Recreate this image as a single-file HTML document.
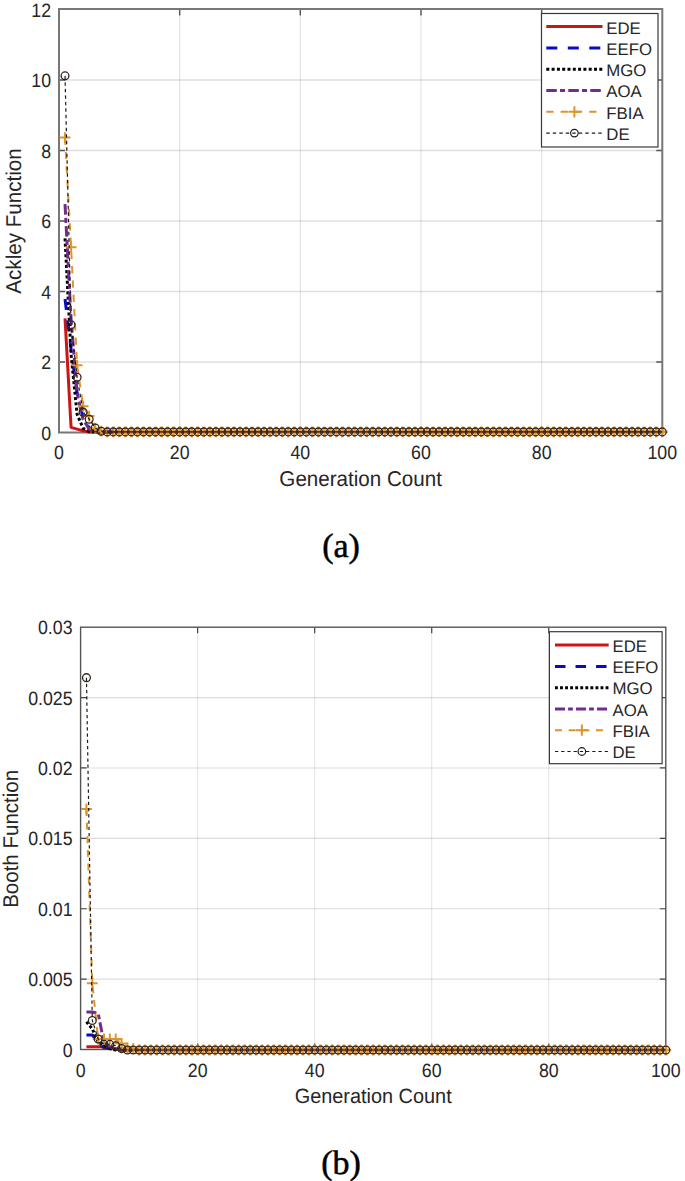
<!DOCTYPE html>
<html><head><meta charset="utf-8"><style>
html,body{margin:0;padding:0;background:#fff;width:685px;height:1181px;overflow:hidden}
svg{display:block}
text{font-family:"Liberation Sans", sans-serif;fill:#262626;text-rendering:geometricPrecision}
.cap{font-family:"Liberation Serif", serif;fill:#000}
</style></head><body>
<svg width="685" height="1181" viewBox="0 0 685 1181">
<rect width="685" height="1181" fill="#fff"/>
<path d="M179.66 9.5V432.5M300.32 9.5V432.5M420.98 9.5V432.5M541.64 9.5V432.5" stroke="#262626" stroke-opacity="0.11" stroke-width="1.3" fill="none"/>
<path d="M59 362H662.3M59 291.5H662.3M59 221H662.3M59 150.5H662.3M59 80H662.3" stroke="#262626" stroke-opacity="0.15" stroke-width="1.5" fill="none"/>
<path d="M179.66 432.5v-6M179.66 9.5v6M300.32 432.5v-6M300.32 9.5v6M420.98 432.5v-6M420.98 9.5v6M541.64 432.5v-6M541.64 9.5v6M59 362h6M662.3 362h-6M59 291.5h6M662.3 291.5h-6M59 221h6M662.3 221h-6M59 150.5h6M662.3 150.5h-6M59 80h6M662.3 80h-6" stroke="#555" stroke-width="1.4" fill="none"/>
<rect x="59" y="9" width="603.3" height="423.5" fill="none" stroke="#777777" stroke-width="2.0"/>
<path d="M101.86 431.9h10.8M107.26 426.5v10.8M107.9 431.9h10.8M113.3 426.5v10.8M113.93 431.9h10.8M119.33 426.5v10.8M119.96 431.9h10.8M125.36 426.5v10.8M126 431.9h10.8M131.4 426.5v10.8M132.03 431.9h10.8M137.43 426.5v10.8M138.06 431.9h10.8M143.46 426.5v10.8M144.09 431.9h10.8M149.5 426.5v10.8M150.13 431.9h10.8M155.53 426.5v10.8M156.16 431.9h10.8M161.56 426.5v10.8M162.19 431.9h10.8M167.59 426.5v10.8M168.23 431.9h10.8M173.63 426.5v10.8M174.26 431.9h10.8M179.66 426.5v10.8M180.29 431.9h10.8M185.69 426.5v10.8M186.33 431.9h10.8M191.73 426.5v10.8M192.36 431.9h10.8M197.76 426.5v10.8M198.39 431.9h10.8M203.79 426.5v10.8M204.42 431.9h10.8M209.82 426.5v10.8M210.46 431.9h10.8M215.86 426.5v10.8M216.49 431.9h10.8M221.89 426.5v10.8M222.52 431.9h10.8M227.92 426.5v10.8M228.56 431.9h10.8M233.96 426.5v10.8M234.59 431.9h10.8M239.99 426.5v10.8M240.62 431.9h10.8M246.02 426.5v10.8M246.66 431.9h10.8M252.06 426.5v10.8M252.69 431.9h10.8M258.09 426.5v10.8M258.72 431.9h10.8M264.12 426.5v10.8M264.75 431.9h10.8M270.15 426.5v10.8M270.79 431.9h10.8M276.19 426.5v10.8M276.82 431.9h10.8M282.22 426.5v10.8M282.85 431.9h10.8M288.25 426.5v10.8M288.89 431.9h10.8M294.29 426.5v10.8M294.92 431.9h10.8M300.32 426.5v10.8M300.95 431.9h10.8M306.35 426.5v10.8M306.99 431.9h10.8M312.39 426.5v10.8M313.02 431.9h10.8M318.42 426.5v10.8M319.05 431.9h10.8M324.45 426.5v10.8M325.08 431.9h10.8M330.48 426.5v10.8M331.12 431.9h10.8M336.52 426.5v10.8M337.15 431.9h10.8M342.55 426.5v10.8M343.18 431.9h10.8M348.58 426.5v10.8M349.22 431.9h10.8M354.62 426.5v10.8M355.25 431.9h10.8M360.65 426.5v10.8M361.28 431.9h10.8M366.68 426.5v10.8M367.32 431.9h10.8M372.72 426.5v10.8M373.35 431.9h10.8M378.75 426.5v10.8M379.38 431.9h10.8M384.78 426.5v10.8M385.42 431.9h10.8M390.81 426.5v10.8M391.45 431.9h10.8M396.85 426.5v10.8M397.48 431.9h10.8M402.88 426.5v10.8M403.51 431.9h10.8M408.91 426.5v10.8M409.55 431.9h10.8M414.95 426.5v10.8M415.58 431.9h10.8M420.98 426.5v10.8M421.61 431.9h10.8M427.01 426.5v10.8M427.65 431.9h10.8M433.05 426.5v10.8M433.68 431.9h10.8M439.08 426.5v10.8M439.71 431.9h10.8M445.11 426.5v10.8M445.75 431.9h10.8M451.14 426.5v10.8M451.78 431.9h10.8M457.18 426.5v10.8M457.81 431.9h10.8M463.21 426.5v10.8M463.84 431.9h10.8M469.24 426.5v10.8M469.88 431.9h10.8M475.28 426.5v10.8M475.91 431.9h10.8M481.31 426.5v10.8M481.94 431.9h10.8M487.34 426.5v10.8M487.98 431.9h10.8M493.38 426.5v10.8M494.01 431.9h10.8M499.41 426.5v10.8M500.04 431.9h10.8M505.44 426.5v10.8M506.08 431.9h10.8M511.48 426.5v10.8M512.11 431.9h10.8M517.51 426.5v10.8M518.14 431.9h10.8M523.54 426.5v10.8M524.17 431.9h10.8M529.57 426.5v10.8M530.21 431.9h10.8M535.61 426.5v10.8M536.24 431.9h10.8M541.64 426.5v10.8M542.27 431.9h10.8M547.67 426.5v10.8M548.31 431.9h10.8M553.71 426.5v10.8M554.34 431.9h10.8M559.74 426.5v10.8M560.37 431.9h10.8M565.77 426.5v10.8M566.4 431.9h10.8M571.8 426.5v10.8M572.44 431.9h10.8M577.84 426.5v10.8M578.47 431.9h10.8M583.87 426.5v10.8M584.5 431.9h10.8M589.9 426.5v10.8M590.54 431.9h10.8M595.94 426.5v10.8M596.57 431.9h10.8M601.97 426.5v10.8M602.6 431.9h10.8M608 426.5v10.8M608.64 431.9h10.8M614.04 426.5v10.8M614.67 431.9h10.8M620.07 426.5v10.8M620.7 431.9h10.8M626.1 426.5v10.8M626.73 431.9h10.8M632.13 426.5v10.8M632.77 431.9h10.8M638.17 426.5v10.8M638.8 431.9h10.8M644.2 426.5v10.8M644.83 431.9h10.8M650.23 426.5v10.8M650.87 431.9h10.8M656.27 426.5v10.8M656.9 431.9h10.8M662.3 426.5v10.8" stroke="#e29a38" stroke-width="2.6" fill="none"/>
<polyline points="65.03,318.39 71.07,427.32 77.1,429.08 83.13,430.84 89.16,431.9 95.2,431.9 101.23,431.9" fill="none" stroke="#cc1616" stroke-width="3" stroke-linejoin="round"/>
<polyline points="65.03,299.01 71.07,349.41 77.1,393.12 83.13,417.8 89.16,427.67 95.2,431.19 101.23,431.9 107.26,431.9 113.3,431.9" fill="none" stroke="#0a0ac4" stroke-width="3" stroke-dasharray="11.00 10.50" stroke-linejoin="round"/>
<polyline points="65.03,238.38 71.07,354.35 77.1,414.27 83.13,428.38 89.16,431.55 95.2,431.9 101.23,431.9 107.26,431.9" fill="none" stroke="#000000" stroke-width="3" stroke-dasharray="3.00 2.30" stroke-linejoin="round"/>
<polyline points="65.03,204.19 71.07,319.1 77.1,393.12 83.13,419.56 89.16,429.08 95.2,431.9 101.23,431.9 107.26,431.9" fill="none" stroke="#722c8c" stroke-width="3" stroke-dasharray="10.50 3.20 5.00 3.30" stroke-linejoin="round"/>
<polyline points="65.03,137.56 71.07,247.19 77.1,365.28 83.13,406.17 89.16,416.04 95.2,428.38 101.23,431.19 107.26,431.9 113.3,431.9 119.33,431.9" fill="none" stroke="#dc942c" stroke-width="2" stroke-dasharray="7.30 7.00" stroke-linejoin="round"/>
<path d="M95.2 431.9H662.3" stroke="#6a2c14" stroke-width="1.6"/>
<path d="M59.63 137.56h10.8M65.03 132.16v10.8M65.67 247.19h10.8M71.07 241.79v10.8M71.7 365.28h10.8M77.1 359.88v10.8M77.73 406.17h10.8M83.13 400.77v10.8M83.76 416.04h10.8M89.16 410.64v10.8M89.8 428.38h10.8M95.2 422.98v10.8M95.83 431.19h10.8M101.23 425.8v10.8" stroke="#dc942c" stroke-width="2" fill="none"/>
<polyline points="65.03,75.87 71.07,324.74 77.1,377.26 83.13,412.16 89.16,419.21 95.2,428.02 101.23,431.19 107.26,431.9 113.3,431.9 119.33,431.9" fill="none" stroke="#1a1a1a" stroke-width="1.2" stroke-dasharray="3.40 3.10" stroke-linejoin="round"/>
<g fill="none" stroke="#33231a" stroke-width="1.3"><circle cx="65.03" cy="75.87" r="3.9"/><circle cx="71.07" cy="324.74" r="3.9"/><circle cx="77.1" cy="377.26" r="3.9"/><circle cx="83.13" cy="412.16" r="3.9"/><circle cx="89.16" cy="419.21" r="3.9"/><circle cx="95.2" cy="428.02" r="3.9"/><circle cx="101.23" cy="431.19" r="3.9"/><circle cx="107.26" cy="431.9" r="3.9"/><circle cx="113.3" cy="431.9" r="3.9"/><circle cx="119.33" cy="431.9" r="3.9"/><circle cx="125.36" cy="431.9" r="3.9"/><circle cx="131.4" cy="431.9" r="3.9"/><circle cx="137.43" cy="431.9" r="3.9"/><circle cx="143.46" cy="431.9" r="3.9"/><circle cx="149.5" cy="431.9" r="3.9"/><circle cx="155.53" cy="431.9" r="3.9"/><circle cx="161.56" cy="431.9" r="3.9"/><circle cx="167.59" cy="431.9" r="3.9"/><circle cx="173.63" cy="431.9" r="3.9"/><circle cx="179.66" cy="431.9" r="3.9"/><circle cx="185.69" cy="431.9" r="3.9"/><circle cx="191.73" cy="431.9" r="3.9"/><circle cx="197.76" cy="431.9" r="3.9"/><circle cx="203.79" cy="431.9" r="3.9"/><circle cx="209.82" cy="431.9" r="3.9"/><circle cx="215.86" cy="431.9" r="3.9"/><circle cx="221.89" cy="431.9" r="3.9"/><circle cx="227.92" cy="431.9" r="3.9"/><circle cx="233.96" cy="431.9" r="3.9"/><circle cx="239.99" cy="431.9" r="3.9"/><circle cx="246.02" cy="431.9" r="3.9"/><circle cx="252.06" cy="431.9" r="3.9"/><circle cx="258.09" cy="431.9" r="3.9"/><circle cx="264.12" cy="431.9" r="3.9"/><circle cx="270.15" cy="431.9" r="3.9"/><circle cx="276.19" cy="431.9" r="3.9"/><circle cx="282.22" cy="431.9" r="3.9"/><circle cx="288.25" cy="431.9" r="3.9"/><circle cx="294.29" cy="431.9" r="3.9"/><circle cx="300.32" cy="431.9" r="3.9"/><circle cx="306.35" cy="431.9" r="3.9"/><circle cx="312.39" cy="431.9" r="3.9"/><circle cx="318.42" cy="431.9" r="3.9"/><circle cx="324.45" cy="431.9" r="3.9"/><circle cx="330.48" cy="431.9" r="3.9"/><circle cx="336.52" cy="431.9" r="3.9"/><circle cx="342.55" cy="431.9" r="3.9"/><circle cx="348.58" cy="431.9" r="3.9"/><circle cx="354.62" cy="431.9" r="3.9"/><circle cx="360.65" cy="431.9" r="3.9"/><circle cx="366.68" cy="431.9" r="3.9"/><circle cx="372.72" cy="431.9" r="3.9"/><circle cx="378.75" cy="431.9" r="3.9"/><circle cx="384.78" cy="431.9" r="3.9"/><circle cx="390.81" cy="431.9" r="3.9"/><circle cx="396.85" cy="431.9" r="3.9"/><circle cx="402.88" cy="431.9" r="3.9"/><circle cx="408.91" cy="431.9" r="3.9"/><circle cx="414.95" cy="431.9" r="3.9"/><circle cx="420.98" cy="431.9" r="3.9"/><circle cx="427.01" cy="431.9" r="3.9"/><circle cx="433.05" cy="431.9" r="3.9"/><circle cx="439.08" cy="431.9" r="3.9"/><circle cx="445.11" cy="431.9" r="3.9"/><circle cx="451.14" cy="431.9" r="3.9"/><circle cx="457.18" cy="431.9" r="3.9"/><circle cx="463.21" cy="431.9" r="3.9"/><circle cx="469.24" cy="431.9" r="3.9"/><circle cx="475.28" cy="431.9" r="3.9"/><circle cx="481.31" cy="431.9" r="3.9"/><circle cx="487.34" cy="431.9" r="3.9"/><circle cx="493.38" cy="431.9" r="3.9"/><circle cx="499.41" cy="431.9" r="3.9"/><circle cx="505.44" cy="431.9" r="3.9"/><circle cx="511.48" cy="431.9" r="3.9"/><circle cx="517.51" cy="431.9" r="3.9"/><circle cx="523.54" cy="431.9" r="3.9"/><circle cx="529.57" cy="431.9" r="3.9"/><circle cx="535.61" cy="431.9" r="3.9"/><circle cx="541.64" cy="431.9" r="3.9"/><circle cx="547.67" cy="431.9" r="3.9"/><circle cx="553.71" cy="431.9" r="3.9"/><circle cx="559.74" cy="431.9" r="3.9"/><circle cx="565.77" cy="431.9" r="3.9"/><circle cx="571.8" cy="431.9" r="3.9"/><circle cx="577.84" cy="431.9" r="3.9"/><circle cx="583.87" cy="431.9" r="3.9"/><circle cx="589.9" cy="431.9" r="3.9"/><circle cx="595.94" cy="431.9" r="3.9"/><circle cx="601.97" cy="431.9" r="3.9"/><circle cx="608" cy="431.9" r="3.9"/><circle cx="614.04" cy="431.9" r="3.9"/><circle cx="620.07" cy="431.9" r="3.9"/><circle cx="626.1" cy="431.9" r="3.9"/><circle cx="632.13" cy="431.9" r="3.9"/><circle cx="638.17" cy="431.9" r="3.9"/><circle cx="644.2" cy="431.9" r="3.9"/><circle cx="650.23" cy="431.9" r="3.9"/><circle cx="656.27" cy="431.9" r="3.9"/><circle cx="662.3" cy="431.9" r="3.9"/></g>
<text transform="translate(59 458.5) scale(0.985 1.07)" text-anchor="middle" font-size="18">0</text>
<text transform="translate(179.66 458.5) scale(0.985 1.07)" text-anchor="middle" font-size="18">20</text>
<text transform="translate(300.32 458.5) scale(0.985 1.07)" text-anchor="middle" font-size="18">40</text>
<text transform="translate(420.98 458.5) scale(0.985 1.07)" text-anchor="middle" font-size="18">60</text>
<text transform="translate(541.64 458.5) scale(0.985 1.07)" text-anchor="middle" font-size="18">80</text>
<text transform="translate(662.3 458.5) scale(0.985 1.07)" text-anchor="middle" font-size="18">100</text>
<text transform="translate(51 439.5) scale(0.985 1.07)" text-anchor="end" font-size="18">0</text>
<text transform="translate(51 369) scale(0.985 1.07)" text-anchor="end" font-size="18">2</text>
<text transform="translate(51 298.5) scale(0.985 1.07)" text-anchor="end" font-size="18">4</text>
<text transform="translate(51 228) scale(0.985 1.07)" text-anchor="end" font-size="18">6</text>
<text transform="translate(51 157.5) scale(0.985 1.07)" text-anchor="end" font-size="18">8</text>
<text transform="translate(51 87) scale(0.985 1.07)" text-anchor="end" font-size="18">10</text>
<text transform="translate(51 16.5) scale(0.985 1.07)" text-anchor="end" font-size="18">12</text>
<text transform="translate(360.65 485.9) scale(1 1.04)" text-anchor="middle" font-size="20.6">Generation Count</text>
<text transform="translate(21 221) rotate(-90) scale(1 1.04)" text-anchor="middle" font-size="20.6">Ackley Function</text>
<rect x="541.5" y="13.5" width="116.5" height="133.5" fill="#fff" stroke="#3a3a3a" stroke-width="1.2"/>
<path d="M546.3 26.6H602.5" stroke="#cc1616" stroke-width="3" fill="none"/>
<text x="606.3" y="33.5" font-size="16.8">EDE</text>
<path d="M546.3 47.9H602.5" stroke="#0a0ac4" stroke-width="3" stroke-dasharray="11.00 10.50" fill="none"/>
<text x="606.3" y="54.8" font-size="16.8">EEFO</text>
<path d="M546.3 69.2H602.5" stroke="#000000" stroke-width="3" stroke-dasharray="3.00 2.30" fill="none"/>
<text x="606.3" y="76.1" font-size="16.8">MGO</text>
<path d="M546.3 90.5H602.5" stroke="#722c8c" stroke-width="3" stroke-dasharray="10.50 3.20 5.00 3.30" fill="none"/>
<text x="606.3" y="97.4" font-size="16.8">AOA</text>
<path d="M546.3 111.8H602.5" stroke="#dc942c" stroke-width="2" stroke-dasharray="7.30 7.00" fill="none"/>
<path d="M568.4 111.8h12M574.4 106.2v11.2" stroke="#dc942c" stroke-width="2"/>
<text x="606.3" y="118.7" font-size="16.8">FBIA</text>
<path d="M546.3 133.1H602.5" stroke="#1a1a1a" stroke-width="1.2" stroke-dasharray="3.40 3.10" fill="none"/>
<circle cx="574.4" cy="133.1" r="3.8" fill="none" stroke="#1a1a1a" stroke-width="1.2"/>
<text x="606.3" y="140" font-size="16.8">DE</text>
<text x="341" y="557" text-anchor="middle" class="cap" font-size="34" stroke="#000" stroke-width="0.5">(a)</text>
<path d="M197.64 627.2V1049.5M314.68 627.2V1049.5M431.72 627.2V1049.5M548.76 627.2V1049.5" stroke="#262626" stroke-opacity="0.13" stroke-width="1.0" fill="none"/>
<path d="M80.6 979.12H665.8M80.6 908.73H665.8M80.6 838.35H665.8M80.6 767.97H665.8M80.6 697.58H665.8" stroke="#262626" stroke-opacity="0.16" stroke-width="1.1" fill="none"/>
<path d="M197.64 1049.5v-6M197.64 627.2v6M314.68 1049.5v-6M314.68 627.2v6M431.72 1049.5v-6M431.72 627.2v6M548.76 1049.5v-6M548.76 627.2v6M80.6 979.12h6M665.8 979.12h-6M80.6 908.73h6M665.8 908.73h-6M80.6 838.35h6M665.8 838.35h-6M80.6 767.97h6M665.8 767.97h-6M80.6 697.58h6M665.8 697.58h-6" stroke="#444" stroke-width="1.2" fill="none"/>
<rect x="80.6" y="627.2" width="585.2" height="422.3" fill="none" stroke="#555555" stroke-width="1.4"/>
<path d="M133.72 1050h10.8M139.12 1044.6v10.8M139.57 1050h10.8M144.97 1044.6v10.8M145.42 1050h10.8M150.82 1044.6v10.8M151.28 1050h10.8M156.68 1044.6v10.8M157.13 1050h10.8M162.53 1044.6v10.8M162.98 1050h10.8M168.38 1044.6v10.8M168.83 1050h10.8M174.23 1044.6v10.8M174.68 1050h10.8M180.08 1044.6v10.8M180.54 1050h10.8M185.94 1044.6v10.8M186.39 1050h10.8M191.79 1044.6v10.8M192.24 1050h10.8M197.64 1044.6v10.8M198.09 1050h10.8M203.49 1044.6v10.8M203.94 1050h10.8M209.34 1044.6v10.8M209.8 1050h10.8M215.2 1044.6v10.8M215.65 1050h10.8M221.05 1044.6v10.8M221.5 1050h10.8M226.9 1044.6v10.8M227.35 1050h10.8M232.75 1044.6v10.8M233.2 1050h10.8M238.6 1044.6v10.8M239.06 1050h10.8M244.46 1044.6v10.8M244.91 1050h10.8M250.31 1044.6v10.8M250.76 1050h10.8M256.16 1044.6v10.8M256.61 1050h10.8M262.01 1044.6v10.8M262.46 1050h10.8M267.86 1044.6v10.8M268.32 1050h10.8M273.72 1044.6v10.8M274.17 1050h10.8M279.57 1044.6v10.8M280.02 1050h10.8M285.42 1044.6v10.8M285.87 1050h10.8M291.27 1044.6v10.8M291.72 1050h10.8M297.12 1044.6v10.8M297.58 1050h10.8M302.98 1044.6v10.8M303.43 1050h10.8M308.83 1044.6v10.8M309.28 1050h10.8M314.68 1044.6v10.8M315.13 1050h10.8M320.53 1044.6v10.8M320.98 1050h10.8M326.38 1044.6v10.8M326.84 1050h10.8M332.24 1044.6v10.8M332.69 1050h10.8M338.09 1044.6v10.8M338.54 1050h10.8M343.94 1044.6v10.8M344.39 1050h10.8M349.79 1044.6v10.8M350.24 1050h10.8M355.64 1044.6v10.8M356.1 1050h10.8M361.5 1044.6v10.8M361.95 1050h10.8M367.35 1044.6v10.8M367.8 1050h10.8M373.2 1044.6v10.8M373.65 1050h10.8M379.05 1044.6v10.8M379.5 1050h10.8M384.9 1044.6v10.8M385.36 1050h10.8M390.76 1044.6v10.8M391.21 1050h10.8M396.61 1044.6v10.8M397.06 1050h10.8M402.46 1044.6v10.8M402.91 1050h10.8M408.31 1044.6v10.8M408.76 1050h10.8M414.16 1044.6v10.8M414.62 1050h10.8M420.02 1044.6v10.8M420.47 1050h10.8M425.87 1044.6v10.8M426.32 1050h10.8M431.72 1044.6v10.8M432.17 1050h10.8M437.57 1044.6v10.8M438.02 1050h10.8M443.42 1044.6v10.8M443.88 1050h10.8M449.28 1044.6v10.8M449.73 1050h10.8M455.13 1044.6v10.8M455.58 1050h10.8M460.98 1044.6v10.8M461.43 1050h10.8M466.83 1044.6v10.8M467.28 1050h10.8M472.68 1044.6v10.8M473.14 1050h10.8M478.54 1044.6v10.8M478.99 1050h10.8M484.39 1044.6v10.8M484.84 1050h10.8M490.24 1044.6v10.8M490.69 1050h10.8M496.09 1044.6v10.8M496.54 1050h10.8M501.94 1044.6v10.8M502.4 1050h10.8M507.8 1044.6v10.8M508.25 1050h10.8M513.65 1044.6v10.8M514.1 1050h10.8M519.5 1044.6v10.8M519.95 1050h10.8M525.35 1044.6v10.8M525.8 1050h10.8M531.2 1044.6v10.8M531.66 1050h10.8M537.06 1044.6v10.8M537.51 1050h10.8M542.91 1044.6v10.8M543.36 1050h10.8M548.76 1044.6v10.8M549.21 1050h10.8M554.61 1044.6v10.8M555.06 1050h10.8M560.46 1044.6v10.8M560.92 1050h10.8M566.32 1044.6v10.8M566.77 1050h10.8M572.17 1044.6v10.8M572.62 1050h10.8M578.02 1044.6v10.8M578.47 1050h10.8M583.87 1044.6v10.8M584.32 1050h10.8M589.72 1044.6v10.8M590.18 1050h10.8M595.58 1044.6v10.8M596.03 1050h10.8M601.43 1044.6v10.8M601.88 1050h10.8M607.28 1044.6v10.8M607.73 1050h10.8M613.13 1044.6v10.8M613.58 1050h10.8M618.98 1044.6v10.8M619.44 1050h10.8M624.84 1044.6v10.8M625.29 1050h10.8M630.69 1044.6v10.8M631.14 1050h10.8M636.54 1044.6v10.8M636.99 1050h10.8M642.39 1044.6v10.8M642.84 1050h10.8M648.24 1044.6v10.8M648.7 1050h10.8M654.1 1044.6v10.8M654.55 1050h10.8M659.95 1044.6v10.8M660.4 1050h10.8M665.8 1044.6v10.8" stroke="#e29a38" stroke-width="2.6" fill="none"/>
<polyline points="86.45,1046.76 92.3,1046.76 98.16,1046.76 104.01,1046.76 109.86,1046.76 115.71,1048.59 121.56,1050 127.42,1050 133.27,1050" fill="none" stroke="#cc1616" stroke-width="3" stroke-linejoin="round"/>
<polyline points="86.45,1034.94 92.3,1034.94 98.16,1042.96 104.01,1047.18 109.86,1048.59 115.71,1050 121.56,1050 127.42,1050" fill="none" stroke="#0a0ac4" stroke-width="3" stroke-dasharray="10.50 10.03" stroke-linejoin="round"/>
<polyline points="86.45,1021.85 92.3,1028.88 98.16,1041.55 104.01,1045.78 109.86,1048.59 115.71,1050 121.56,1050 127.42,1050" fill="none" stroke="#000000" stroke-width="3" stroke-dasharray="2.86 2.20" stroke-linejoin="round"/>
<polyline points="86.45,1011.99 92.3,1011.99 98.16,1013.4 104.01,1042.96 109.86,1047.18 115.71,1048.59 121.56,1050 127.42,1050 133.27,1050" fill="none" stroke="#722c8c" stroke-width="3" stroke-dasharray="10.03 3.06 4.77 3.15" stroke-linejoin="round"/>
<polyline points="86.45,809.01 92.3,983.28 98.16,1039.02 104.01,1039.02 109.86,1039.02 115.71,1039.02 121.56,1043.52 127.42,1047.75 133.27,1048.59 139.12,1050 144.97,1050 150.82,1050" fill="none" stroke="#dc942c" stroke-width="2" stroke-dasharray="6.97 6.68" stroke-linejoin="round"/>
<path d="M115.71 1050H665.8" stroke="#6a2c14" stroke-width="1.6"/>
<path d="M81.05 809.01h10.8M86.45 803.61v10.8M86.9 983.28h10.8M92.3 977.88v10.8M92.76 1039.02h10.8M98.16 1033.62v10.8M98.61 1039.02h10.8M104.01 1033.62v10.8M104.46 1039.02h10.8M109.86 1033.62v10.8M110.31 1039.02h10.8M115.71 1033.62v10.8M116.16 1043.52h10.8M121.56 1038.12v10.8M122.02 1047.75h10.8M127.42 1042.35v10.8M127.87 1048.59h10.8M133.27 1043.19v10.8" stroke="#dc942c" stroke-width="2" fill="none"/>
<polyline points="86.45,677.67 92.3,1020.44 98.16,1039.02 104.01,1044.37 109.86,1044.37 115.71,1045.78 121.56,1048.59 127.42,1050 133.27,1050 139.12,1050" fill="none" stroke="#1a1a1a" stroke-width="1.2" stroke-dasharray="3.25 2.96" stroke-linejoin="round"/>
<g fill="none" stroke="#33231a" stroke-width="1.3"><circle cx="86.45" cy="677.67" r="3.9"/><circle cx="92.3" cy="1020.44" r="3.9"/><circle cx="98.16" cy="1039.02" r="3.9"/><circle cx="104.01" cy="1044.37" r="3.9"/><circle cx="109.86" cy="1044.37" r="3.9"/><circle cx="115.71" cy="1045.78" r="3.9"/><circle cx="121.56" cy="1048.59" r="3.9"/><circle cx="127.42" cy="1050" r="3.9"/><circle cx="133.27" cy="1050" r="3.9"/><circle cx="139.12" cy="1050" r="3.9"/><circle cx="144.97" cy="1050" r="3.9"/><circle cx="150.82" cy="1050" r="3.9"/><circle cx="156.68" cy="1050" r="3.9"/><circle cx="162.53" cy="1050" r="3.9"/><circle cx="168.38" cy="1050" r="3.9"/><circle cx="174.23" cy="1050" r="3.9"/><circle cx="180.08" cy="1050" r="3.9"/><circle cx="185.94" cy="1050" r="3.9"/><circle cx="191.79" cy="1050" r="3.9"/><circle cx="197.64" cy="1050" r="3.9"/><circle cx="203.49" cy="1050" r="3.9"/><circle cx="209.34" cy="1050" r="3.9"/><circle cx="215.2" cy="1050" r="3.9"/><circle cx="221.05" cy="1050" r="3.9"/><circle cx="226.9" cy="1050" r="3.9"/><circle cx="232.75" cy="1050" r="3.9"/><circle cx="238.6" cy="1050" r="3.9"/><circle cx="244.46" cy="1050" r="3.9"/><circle cx="250.31" cy="1050" r="3.9"/><circle cx="256.16" cy="1050" r="3.9"/><circle cx="262.01" cy="1050" r="3.9"/><circle cx="267.86" cy="1050" r="3.9"/><circle cx="273.72" cy="1050" r="3.9"/><circle cx="279.57" cy="1050" r="3.9"/><circle cx="285.42" cy="1050" r="3.9"/><circle cx="291.27" cy="1050" r="3.9"/><circle cx="297.12" cy="1050" r="3.9"/><circle cx="302.98" cy="1050" r="3.9"/><circle cx="308.83" cy="1050" r="3.9"/><circle cx="314.68" cy="1050" r="3.9"/><circle cx="320.53" cy="1050" r="3.9"/><circle cx="326.38" cy="1050" r="3.9"/><circle cx="332.24" cy="1050" r="3.9"/><circle cx="338.09" cy="1050" r="3.9"/><circle cx="343.94" cy="1050" r="3.9"/><circle cx="349.79" cy="1050" r="3.9"/><circle cx="355.64" cy="1050" r="3.9"/><circle cx="361.5" cy="1050" r="3.9"/><circle cx="367.35" cy="1050" r="3.9"/><circle cx="373.2" cy="1050" r="3.9"/><circle cx="379.05" cy="1050" r="3.9"/><circle cx="384.9" cy="1050" r="3.9"/><circle cx="390.76" cy="1050" r="3.9"/><circle cx="396.61" cy="1050" r="3.9"/><circle cx="402.46" cy="1050" r="3.9"/><circle cx="408.31" cy="1050" r="3.9"/><circle cx="414.16" cy="1050" r="3.9"/><circle cx="420.02" cy="1050" r="3.9"/><circle cx="425.87" cy="1050" r="3.9"/><circle cx="431.72" cy="1050" r="3.9"/><circle cx="437.57" cy="1050" r="3.9"/><circle cx="443.42" cy="1050" r="3.9"/><circle cx="449.28" cy="1050" r="3.9"/><circle cx="455.13" cy="1050" r="3.9"/><circle cx="460.98" cy="1050" r="3.9"/><circle cx="466.83" cy="1050" r="3.9"/><circle cx="472.68" cy="1050" r="3.9"/><circle cx="478.54" cy="1050" r="3.9"/><circle cx="484.39" cy="1050" r="3.9"/><circle cx="490.24" cy="1050" r="3.9"/><circle cx="496.09" cy="1050" r="3.9"/><circle cx="501.94" cy="1050" r="3.9"/><circle cx="507.8" cy="1050" r="3.9"/><circle cx="513.65" cy="1050" r="3.9"/><circle cx="519.5" cy="1050" r="3.9"/><circle cx="525.35" cy="1050" r="3.9"/><circle cx="531.2" cy="1050" r="3.9"/><circle cx="537.06" cy="1050" r="3.9"/><circle cx="542.91" cy="1050" r="3.9"/><circle cx="548.76" cy="1050" r="3.9"/><circle cx="554.61" cy="1050" r="3.9"/><circle cx="560.46" cy="1050" r="3.9"/><circle cx="566.32" cy="1050" r="3.9"/><circle cx="572.17" cy="1050" r="3.9"/><circle cx="578.02" cy="1050" r="3.9"/><circle cx="583.87" cy="1050" r="3.9"/><circle cx="589.72" cy="1050" r="3.9"/><circle cx="595.58" cy="1050" r="3.9"/><circle cx="601.43" cy="1050" r="3.9"/><circle cx="607.28" cy="1050" r="3.9"/><circle cx="613.13" cy="1050" r="3.9"/><circle cx="618.98" cy="1050" r="3.9"/><circle cx="624.84" cy="1050" r="3.9"/><circle cx="630.69" cy="1050" r="3.9"/><circle cx="636.54" cy="1050" r="3.9"/><circle cx="642.39" cy="1050" r="3.9"/><circle cx="648.24" cy="1050" r="3.9"/><circle cx="654.1" cy="1050" r="3.9"/><circle cx="659.95" cy="1050" r="3.9"/><circle cx="665.8" cy="1050" r="3.9"/></g>
<text transform="translate(80.6 1076.5) scale(0.985 1.07)" text-anchor="middle" font-size="18">0</text>
<text transform="translate(197.64 1076.5) scale(0.985 1.07)" text-anchor="middle" font-size="18">20</text>
<text transform="translate(314.68 1076.5) scale(0.985 1.07)" text-anchor="middle" font-size="18">40</text>
<text transform="translate(431.72 1076.5) scale(0.985 1.07)" text-anchor="middle" font-size="18">60</text>
<text transform="translate(548.76 1076.5) scale(0.985 1.07)" text-anchor="middle" font-size="18">80</text>
<text transform="translate(665.8 1076.5) scale(0.985 1.07)" text-anchor="middle" font-size="18">100</text>
<text transform="translate(72.5 1056.5) scale(0.985 1.07)" text-anchor="end" font-size="18">0</text>
<text transform="translate(72.5 986.12) scale(0.985 1.07)" text-anchor="end" font-size="18">0.005</text>
<text transform="translate(72.5 915.73) scale(0.985 1.07)" text-anchor="end" font-size="18">0.01</text>
<text transform="translate(72.5 845.35) scale(0.985 1.07)" text-anchor="end" font-size="18">0.015</text>
<text transform="translate(72.5 774.97) scale(0.985 1.07)" text-anchor="end" font-size="18">0.02</text>
<text transform="translate(72.5 704.58) scale(0.985 1.07)" text-anchor="end" font-size="18">0.025</text>
<text transform="translate(72.5 634.2) scale(0.985 1.07)" text-anchor="end" font-size="18">0.03</text>
<text transform="translate(373.2 1103.4) scale(1 1.04)" text-anchor="middle" font-size="19.9">Generation Count</text>
<text transform="translate(18.3 838.85) rotate(-90) scale(1 1.04)" text-anchor="middle" font-size="20.5">Booth Function</text>
<rect x="549.4" y="631.7" width="112.7" height="132" fill="#fff" stroke="#3a3a3a" stroke-width="1.2"/>
<path d="M555 645.1H608.7" stroke="#cc1616" stroke-width="3" fill="none"/>
<text x="612.5" y="651.7" font-size="16.8">EDE</text>
<path d="M555 666.38H608.7" stroke="#0a0ac4" stroke-width="3" stroke-dasharray="10.50 10.03" fill="none"/>
<text x="612.5" y="672.98" font-size="16.8">EEFO</text>
<path d="M555 687.66H608.7" stroke="#000000" stroke-width="3" stroke-dasharray="2.86 2.20" fill="none"/>
<text x="612.5" y="694.26" font-size="16.8">MGO</text>
<path d="M555 708.94H608.7" stroke="#722c8c" stroke-width="3" stroke-dasharray="10.03 3.06 4.77 3.15" fill="none"/>
<text x="612.5" y="715.54" font-size="16.8">AOA</text>
<path d="M555 730.22H608.7" stroke="#dc942c" stroke-width="2" stroke-dasharray="6.97 6.68" fill="none"/>
<path d="M575.85 730.22h12M581.85 724.62v11.2" stroke="#dc942c" stroke-width="2"/>
<text x="612.5" y="736.82" font-size="16.8">FBIA</text>
<path d="M555 751.5H608.7" stroke="#1a1a1a" stroke-width="1.2" stroke-dasharray="3.25 2.96" fill="none"/>
<circle cx="581.85" cy="751.5" r="3.8" fill="none" stroke="#1a1a1a" stroke-width="1.2"/>
<text x="612.5" y="758.1" font-size="16.8">DE</text>
<text x="341" y="1173.5" text-anchor="middle" class="cap" font-size="34" stroke="#000" stroke-width="0.5">(b)</text>
</svg>
</body></html>
